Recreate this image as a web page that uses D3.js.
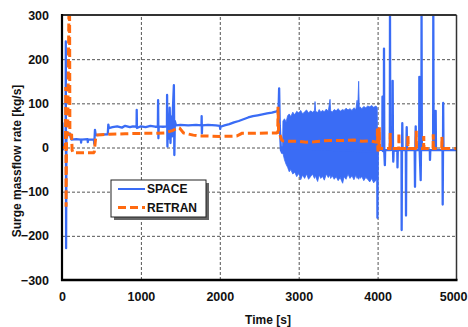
<!DOCTYPE html>
<html><head><meta charset="utf-8">
<script src="https://cdn.jsdelivr.net/npm/d3@7"></script>
<style>
body{margin:0;background:#fff}
svg{display:block}
text{font-family:"Liberation Sans",Arial,sans-serif;font-weight:bold;fill:#111}
</style>
</head><body>
<script>
// ---- data ----
const xTicks = [0, 1000, 2000, 3000, 4000, 5000];
const yTicks = [-300, -200, -100, 0, 100, 200, 300];
const seriesNames = ["SPACE", "RETRAN"];

const spaceTime = [0,5,10,30,46,48,52,56,62,80,100,110,120,180,240,242,246,325,327,331,405,409,418,426,440,500,580,587,595,640,700,760,800,860,900,945,947,950,1000,1060,1120,1180,1215,1218,1222,1226,1280,1330,1332,1336,1345,1355,1365,1375,1385,1395,1405,1418,1424,1430,1445,1500,1600,1700,1768,1770,1773,1776,1850,1950,2000,2005,2010,2060,2120,2180,2240,2300,2360,2420,2480,2540,2600,2660,2720,2745,2752,2760,2775,2790,2795,3996,3998,4002,4060,4062,4066,4079,4081,4085,4092,4096,4155,4157,4161,4189,4191,4195,4199,4203,4250,4252,4256,4303,4305,4309,4313,4317,4358,4360,4364,4369,4373,4470,4474,4478,4483,4487,4527,4529,4533,4546,4550,4555,4557,4561,4662,4664,4668,4704,4706,4710,4734,4736,4740,4823,4825,4829,4831,4835,5000];
const spaceFlow = [0,55,-5,5,10,240,-228,28,35,28,32,22,18,19,18,11,18,19,12,18,18,8,40,30,28,29,30,52,44,46,48,45,49,46,48,47,85,44,48,46,49,47,47,107,21,48,47,48,119,2,75,20,90,10,70,25,85,141,-17,60,50,51,50,51,50,71,32,50,51,50,49,42,47,50,53,57,60,64,68,71,73,75,77,79,82,86,134,50,-6,-12,0,-10,-159,-6,-5,115,-8,-6,224,-10,-40,-6,-6,310,-6,-5,151,-6,-32,-6,-8,-45,-6,-6,-187,-10,55,-6,-6,-154,-10,46,-6,-6,-89,-6,48,-6,-6,160,-6,-74,-6,-6,310,-6,-6,-28,-6,-6,310,-6,-6,83,-6,-6,-129,-6,101,-6,-6];

// SPACE oscillation envelope (2800 s - 4000 s)
const bandTime = [2795,2800,2820,2840,2860,2880,2900,2925,2950,2975,3000,3025,3050,3075,3100,3125,3150,3175,3200,3207,3215,3240,3260,3280,3300,3325,3350,3375,3397,3405,3425,3450,3475,3500,3525,3557,3575,3600,3625,3650,3675,3700,3725,3740,3748,3760,3768,3776,3800,3825,3850,3875,3900,3925,3950,3980,3995,4000];
const bandHigh = [0,60,65,58,72,76,70,80,74,82,78,84,76,81,85,78,83,80,84,104,82,79,86,80,84,81,87,82,109,84,80,86,83,88,82,86,84,89,85,88,84,90,86,107,88,150,90,92,88,93,90,94,92,95,91,94,90,0];
const bandLow = [-10,-13,-28,-38,-45,-55,-50,-60,-56,-66,-58,-73,-62,-70,-60,-72,-66,-60,-70,-64,-66,-77,-62,-70,-65,-74,-60,-68,-62,-70,-64,-72,-66,-75,-68,-81,-66,-72,-60,-70,-64,-73,-62,-70,-66,-72,-64,-70,-66,-75,-68,-72,-78,-70,-80,-74,-70,0];

const retranTime = [0,44,48,52,58,72,88,96,100,115,122,128,140,400,409,430,500,600,800,1000,1150,1300,1400,1470,1490,1540,1664,1750,1834,2000,2214,2280,2400,2600,2720,2735,2738,2745,2760,2785,2800,2900,3000,3100,3200,3300,3400,3500,3600,3700,3800,3900,3960,3995,3998,4004,4010,4020,4022,4025,4158,4160,4163,4268,4270,4273,4383,4385,4388,4488,4490,4493,4583,4585,4588,4703,4705,4708,4813,4815,4818,5000];
const retranFlow = [0,0,137,-134,30,30,310,310,30,28,28,-6,-12,-12,-10,28,29,30,31,32,32,33,38,45,44,33,28,26,26,25,26,32,32,33,33,34,92,36,30,17,15,14,14,12,13,15,16,16,16,17,14,15,13,12,43,-9,-2,-2,46,-2,-2,33,-2,-2,33,-2,-2,28,-2,-2,38,-2,-2,26,-2,-2,30,-2,-2,24,-2,-2];

// ---- layout ----
const W = 468, H = 327;
const L = 62, R = 456.5, T = 15, B = 280;
const blue = "#3a6cf5", orange = "#ff6a10";

const svg = d3.select("body").append("svg").attr("width", W).attr("height", H);
const x = d3.scaleLinear().domain([0, 5000]).range([L, R]);
const y = d3.scaleLinear().domain([-300, 300]).range([B, T]);

// gridlines
const grid = svg.append("g");
grid.append("g").attr("transform", `translate(0,${B})`)
  .call(d3.axisBottom(x).tickValues(xTicks.slice(1, -1)).tickSize(-(B - T)).tickFormat(""))
  .call(g => g.select(".domain").remove());
grid.append("g").attr("transform", `translate(${L},0)`)
  .call(d3.axisLeft(y).tickValues(yTicks.slice(1, -1)).tickSize(-(R - L)).tickFormat(""))
  .call(g => g.select(".domain").remove());
grid.selectAll("line").attr("stroke", "#555").attr("stroke-width", 1).attr("stroke-dasharray", "3,2");

// clip
svg.append("clipPath").attr("id", "clip").append("rect")
  .attr("x", L).attr("y", T).attr("width", R - L).attr("height", B - T);
const plot = svg.append("g").attr("clip-path", "url(#clip)");

// SPACE band
const bandData = bandTime.map((t, i) => ({t, hi: bandHigh[i], lo: bandLow[i]}));
plot.append("path").datum(bandData)
  .attr("fill", blue).attr("stroke", blue).attr("stroke-width", 0.8)
  .attr("d", d3.area().x(d => x(d.t)).y0(d => y(d.lo)).y1(d => y(d.hi)));

// SPACE line
const spaceData = spaceTime.map((t, i) => ({t, v: spaceFlow[i]}));
plot.append("path").datum(spaceData)
  .attr("fill", "none").attr("stroke", blue).attr("stroke-width", 2.3).attr("stroke-linejoin", "round")
  .attr("d", d3.line().x(d => x(d.t)).y(d => y(d.v)));

// RETRAN line
const retranData = retranTime.map((t, i) => ({t, v: retranFlow[i]}));
plot.append("path").datum(retranData)
  .attr("fill", "none").attr("stroke", orange).attr("stroke-width", 3).attr("stroke-dasharray", "8,4")
  .attr("d", d3.line().x(d => x(d.t)).y(d => y(d.v)));

// frame
svg.append("line").attr("x1", L).attr("x2", R).attr("y1", T).attr("y2", T).attr("stroke", "#333").attr("stroke-width", 2);
svg.append("line").attr("x1", R).attr("x2", R).attr("y1", T).attr("y2", B).attr("stroke", "#333").attr("stroke-width", 1.5);
svg.append("line").attr("x1", L).attr("x2", L).attr("y1", T - 1).attr("y2", B + 1).attr("stroke", "#000").attr("stroke-width", 2.2);
svg.append("line").attr("x1", L - 1).attr("x2", R + 1).attr("y1", B).attr("y2", B).attr("stroke", "#000").attr("stroke-width", 2.6);

// tick labels
const yAx = svg.append("g").attr("transform", `translate(${L},0)`)
  .call(d3.axisLeft(y).tickValues(yTicks).tickSize(0).tickPadding(13));
yAx.select(".domain").remove();
yAx.selectAll("text").attr("font-size", 12.5).style("font-family", '"Liberation Sans",Arial,sans-serif').style("font-weight", "bold").attr("fill", "#111");

const xAx = svg.append("g").attr("transform", `translate(0,${B})`)
  .call(d3.axisBottom(x).tickValues(xTicks).tickFormat(d3.format("d")).tickSize(0).tickPadding(12));
xAx.select(".domain").remove();
xAx.selectAll("text").attr("font-size", 12.5).style("font-family", '"Liberation Sans",Arial,sans-serif').style("font-weight", "bold").attr("fill", "#111");
xAx.selectAll(".tick").filter(d => d === 5000).select("text").attr("text-anchor", "end").attr("x", 467 - R);

// axis titles
svg.append("text").attr("x", 268).attr("y", 324).attr("text-anchor", "middle").attr("font-size", 12).text("Time [s]");
svg.append("text").attr("transform", "translate(21,161) rotate(-90)").attr("text-anchor", "middle").attr("font-size", 12).text("Surge massflow rate [kg/s]");

// legend
const lg = svg.append("g");
lg.append("rect").attr("x", 114).attr("y", 183).attr("width", 95).attr("height", 37).attr("fill", "#666");
lg.append("rect").attr("x", 111).attr("y", 180).attr("width", 95).attr("height", 37).attr("fill", "#fff").attr("stroke", "#222").attr("stroke-width", 1);
const items = [{name: seriesNames[0], color: blue, w: 2, dash: null, yy: 189},
               {name: seriesNames[1], color: orange, w: 3, dash: "8,4", yy: 207.5}];
items.forEach(it => {
  lg.append("line").attr("x1", 118).attr("x2", 145).attr("y1", it.yy).attr("y2", it.yy)
    .attr("stroke", it.color).attr("stroke-width", it.w).attr("stroke-dasharray", it.dash);
  lg.append("text").attr("x", 147).attr("y", it.yy).attr("dy", "0.36em").attr("font-size", 12).text(it.name);
});
</script>
</body></html>
